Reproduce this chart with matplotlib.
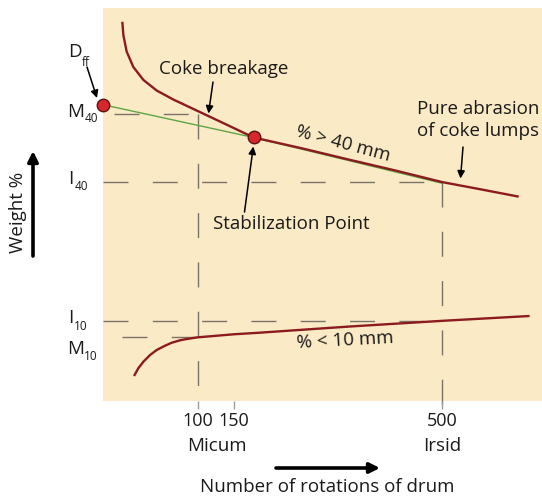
import numpy as np
import matplotlib
matplotlib.use("Agg")
import matplotlib.pyplot as plt

# Share of coke lumps > 40 mm against number of drum rotations
rot_coarse = [13.3, 14.2, 17.2, 23.5, 33.8, 48.5, 68.3, 91.6, 116.2, 144.3, 178.9,
              254.3, 332.0, 414.3, 500.0, 575.2, 646.8]
pct_coarse = [96.5, 93.1, 88.9, 85.0, 81.7, 79.0, 76.7, 74.5, 72.3, 69.9, 67.05,
              64.3, 61.45, 58.65, 55.7, 53.8, 52.0]

# Share of fines < 10 mm against number of drum rotations
rot_fines = [24.2, 28.5, 33.8, 41.0, 48.5, 58.2, 66.3, 76.6, 85.1, 99.5, 149.1, 187.8,
             334.9, 500.0, 668.3]
pct_fines = [6.36, 8.32, 10.0, 11.7, 12.98, 14.07, 14.83, 15.45, 15.78, 16.2, 16.97,
             17.38, 18.96, 20.4, 21.63]

# Index values
D_ff = 75.4
M40 = 73.1
I40 = 55.7
I10 = 20.4
M10 = 16.2
stab_rot, stab_pct = 178.9, 67.05
micum_rot, irsid_rot = 100, 500
tick_rots = [100, 150, 500]
tick_labels = ["100", "150", "500"]

W, H = 542, 499
DPI = 100
PANEL = "#FAEAC5"
RED = "#8C1B20"
GREEN = "#5EA545"
DASH = "#78746A"
INK = "#1A1A1A"
FONT = "Open Sans"
FS = 13.5
SUB = 8.5

plt.rcParams["font.family"] = [FONT, "DejaVu Sans"]

fig = plt.figure(figsize=(W / DPI, H / DPI), dpi=DPI)
ax = fig.add_axes([103 / W, (H - 401) / H, (W - 103) / W, 393 / H])
ax.set_facecolor(PANEL)

P = 0.79


def fwd(x):
    x = np.asarray(x, dtype=float)
    return np.sign(x) * np.abs(x) ** P


def inv(x):
    x = np.asarray(x, dtype=float)
    return np.sign(x) * np.abs(x) ** (1 / P)


ax.set_xscale("function", functions=(fwd, inv))
ax.set_xlim(0, 693)
ax.set_ylim(0, 100)

for s in ax.spines.values():
    s.set_visible(False)
ax.set_yticks([])
ax.set_xticks(tick_rots)
ax.set_xticklabels(tick_labels)
ax.tick_params(axis="x", length=5.8, width=1.0, color="#9C9C9C", pad=2.0,
               labelsize=13, labelcolor=INK)
ax.xaxis.set_minor_locator(matplotlib.ticker.NullLocator())

dash = dict(color=DASH, lw=1.0, dashes=(18, 17.5), zorder=1)
ax.plot([6.5, micum_rot], [M40, M40], **dash)
ax.plot([0, irsid_rot], [I40, I40], **dash)
ax.plot([0, irsid_rot], [I10, I10], **dash)
ax.plot([13, micum_rot], [M10, M10], **dash)
ax.plot([micum_rot, micum_rot], [M40, -2.0], clip_on=False, **dash)
ax.plot([irsid_rot, irsid_rot], [I40, -2.0], clip_on=False, **dash)

# abrasion line: extrapolated from the stabilization point back to zero rotations
ax.plot([0, stab_rot, irsid_rot], [D_ff, stab_pct, I40 - 0.3],
        color=GREEN, lw=1.0, zorder=2)

ax.plot(rot_coarse, pct_coarse, color=RED, lw=1.7, zorder=3,
        solid_capstyle="butt", solid_joinstyle="round")
ax.plot(rot_fines, pct_fines, color=RED, lw=1.7, zorder=3,
        solid_capstyle="butt", solid_joinstyle="round")

ax.plot([0, stab_rot], [D_ff, stab_pct], "o", ms=9, mfc="#D6282B", mec="#5E1212",
        mew=1.0, clip_on=False, zorder=5)


def fxy(px, py):
    return (px / W, 1 - py / H)


def label(px, py, s, size=FS, **kw):
    x, y = fxy(px, py)
    fig.text(x, y, s, fontsize=size, color=INK, ha="center", va="center", **kw)


def arrow(tail, tip, lw=1.1, ms=11):
    ax.annotate("", xy=fxy(*tip), xytext=fxy(*tail),
                xycoords="figure fraction", textcoords="figure fraction",
                arrowprops=dict(arrowstyle="-|>", color="black", lw=lw,
                                mutation_scale=ms, shrinkA=0, shrinkB=0))


# Index letters with subscripts
label(75, 52, "D")
label(86, 63, "ff", size=SUB)
label(76, 112, "M")
label(91, 119, "40", size=SUB)
label(71, 179, "I")
label(81, 187, "40", size=SUB)
label(71, 318, "I")
label(81, 326, "10", size=SUB)
label(76, 349, "M")
label(91, 357, "10", size=SUB)

label(224, 69, "Coke breakage")
label(478, 109, "Pure abrasion")
label(478, 131, "of coke lumps")
label(291, 224, "Stabilization Point")
label(343, 144, "% > 40 mm", rotation=-15)
label(345, 340, "% < 10 mm", rotation=3)
label(217, 446, "Micum")
label(442, 446, "Irsid")
label(327, 487, "Number of rotations of drum")
label(18, 212, "Weight %", rotation=90)

arrow((87, 67), (97, 98))
arrow((213, 82), (208.5, 113.5))
arrow((244.5, 212), (253.3, 146.5))
arrow((463, 147), (460.5, 178.5))
arrow((33, 256), (33, 151), lw=2.6, ms=15)
arrow((276, 468), (380, 468), lw=2.6, ms=15)

fig.savefig("out.png", dpi=DPI, facecolor="white")
